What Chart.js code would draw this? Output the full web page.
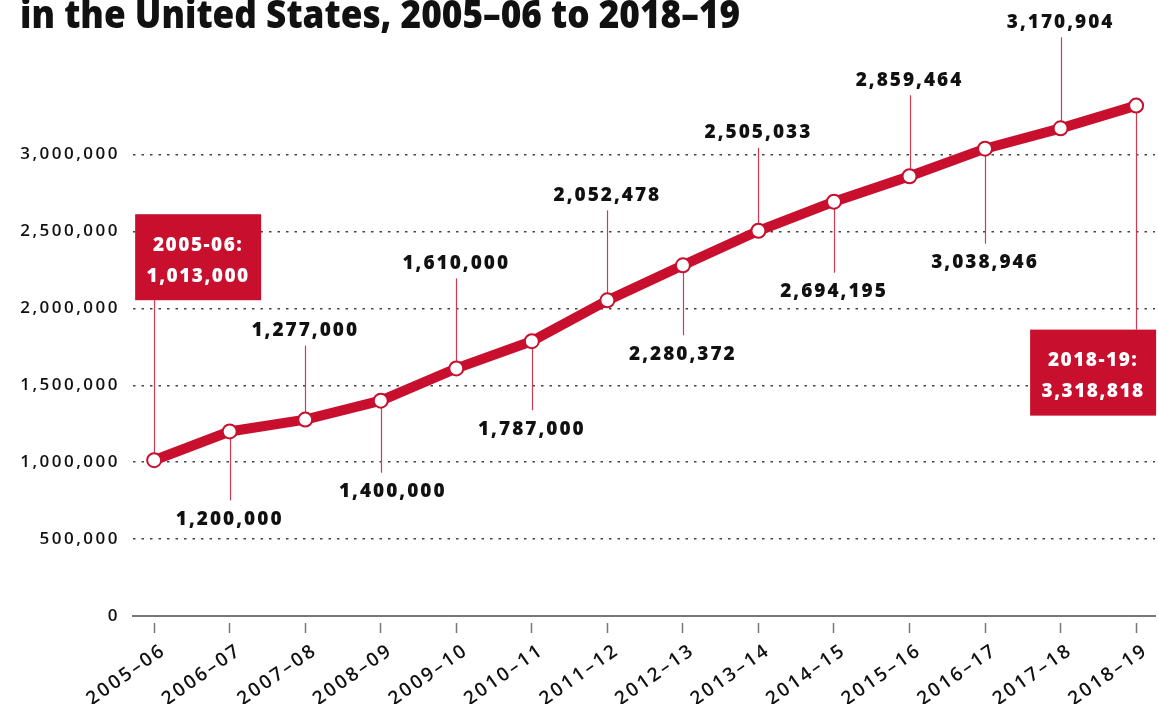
<!DOCTYPE html>
<html>
<head>
<meta charset="utf-8">
<title>Students in the United States</title>
<script src="https://cdn.jsdelivr.net/npm/chart.js@4.4.0/dist/chart.umd.min.js"></script>
<style>
body { margin: 0; background: #fff; }
#wrap { width: 1158px; height: 704px; }
</style>
</head>
<body>
<div id="wrap"><canvas id="chart" width="1158" height="704"></canvas></div>
<script>
// data
var years = ["2005–06", "2006–07", "2007–08", "2008–09", "2009–10", "2010–11", "2011–12",
             "2012–13", "2013–14", "2014–15", "2015–16", "2016–17", "2017–18", "2018–19"];
var students = [1013000, 1200000, 1277000, 1400000, 1610000, 1787000, 2052478,
                2280372, 2505033, 2694195, 2859464, 3038946, 3170904, 3318818];
var yTicks = [0, 500000, 1000000, 1500000, 2000000, 2500000, 3000000];
var boxTitles = { 0: "2005-06:", 13: "2018-19:" };
var titleText = "in the United States, 2005–06 to 2018–19";

// callout layout (px from the point): leader length, label shift
var leader = [-160, 69, -74, 72, -90, 69, -90, 70, -83, 71, -81, 95, -91, 224];
var labelDx = [0, 0, 0, 12, 0, 0, 0, 0, 0, 0, 0, 0, 0, 0];

var RED = "#C8102E";

function fmt(v) { return v.toLocaleString("en-US"); }

var spacing = {
  id: "spacing",
  beforeUpdate: function(chart) { chart.ctx.letterSpacing = "2.5px"; },
  beforeDraw: function(chart) {
    var ctx = chart.ctx;
    ctx.save();
    ctx.letterSpacing = "0px";
    ctx.fillStyle = "#111";
    ctx.font = "800 38px 'Open Sans'";
    ctx.textBaseline = "alphabetic";
    ctx.textAlign = "left";
    ctx.fillText(titleText, 20, 28, 720);
    ctx.restore();
    ctx.letterSpacing = "2.5px";
  }
};

var callouts = {
  id: "callouts",
  beforeDatasetsDraw: function(chart) {
    var ctx = chart.ctx;
    var pts = chart.getDatasetMeta(0).data;
    ctx.save();
    ctx.strokeStyle = "#D23A52";
    ctx.lineWidth = 1.2;
    pts.forEach(function(p, i) {
      ctx.beginPath();
      ctx.moveTo(Math.round(p.x) + 0.5, p.y);
      ctx.lineTo(Math.round(p.x) + 0.5, p.y + leader[i]);
      ctx.stroke();
    });
    ctx.restore();
  },
  afterDatasetsDraw: function(chart) {
    var ctx = chart.ctx;
    var pts = chart.getDatasetMeta(0).data;
    ctx.save();
    ctx.textAlign = "center";
    ctx.textBaseline = "middle";
    pts.forEach(function(p, i) {
      var len = leader[i];
      if (boxTitles[i]) {
        var bx = i === 0 ? p.x - 19 : p.x - 106;
        var by = len < 0 ? p.y + len - 86 : p.y + len;
        ctx.fillStyle = RED;
        ctx.fillRect(bx, by, 126, 86);
        ctx.fillStyle = "#fff";
        ctx.font = "800 19px 'Open Sans'";
        ctx.letterSpacing = "1.5px";
        ctx.fillText(boxTitles[i], bx + 63, by + 31);
        ctx.fillText(fmt(students[i]), bx + 63, by + 62);
      } else {
        ctx.fillStyle = "#111";
        ctx.font = "800 19px 'Open Sans'";
        ctx.letterSpacing = "2px";
        var ty = len < 0 ? p.y + len - 15 : p.y + len + 19;
        ctx.fillText(fmt(students[i]), p.x + labelDx[i], ty);
      }
    });
    ctx.restore();
  }
};

new Chart(document.getElementById("chart"), {
  type: "line",
  data: {
    datasets: [{
      data: students.map(function(v, i) { return { x: i, y: v }; }),
      borderColor: RED,
      borderWidth: 10,
      tension: 0,
      pointRadius: 7,
      pointBorderWidth: 2,
      pointBorderColor: RED,
      pointBackgroundColor: "#fff",
      clip: false
    }]
  },
  options: {
    responsive: false,
    animation: false,
    devicePixelRatio: 1,
    layout: { autoPadding: false, padding: { top: 47, right: 3, left: 0, bottom: 0 } },
    plugins: { legend: { display: false }, tooltip: { enabled: false } },
    scales: {
      x: {
        type: "linear",
        min: -0.28,
        max: 13.25,
        afterBuildTicks: function(scale) {
          scale.ticks = years.map(function(y, i) { return { value: i }; });
        },
        afterFit: function(scale) {
          scale.height = 88;
          scale.paddingLeft = 0;
          scale.paddingRight = 0;
        },
        border: { display: true, color: "#777", width: 2 },
        grid: {
          drawOnChartArea: false,
          drawTicks: true,
          tickLength: 17,
          tickColor: "#777",
          tickWidth: 1.5,
          tickBorderDash: [0, 6, 10, 30]
        },
        ticks: {
          autoSkip: false,
          minRotation: 35,
          maxRotation: 35,
          padding: 6,
          labelOffset: 10,
          color: "#111",
          font: { family: "'Open Sans'", size: 19, weight: "600" },
          callback: function(v) { return years[v]; }
        }
      },
      y: {
        min: 0,
        max: 3700000,
        afterBuildTicks: function(scale) {
          scale.ticks = yTicks.map(function(v) { return { value: v }; });
        },
        afterFit: function(scale) { scale.width = 133; },
        border: { display: false, dash: [2.5, 6] },
        grid: {
          drawTicks: false,
          color: function(c) { return c.tick && c.tick.value === 0 ? "rgba(0,0,0,0)" : "#444"; },
          lineWidth: 1.5
        },
        ticks: {
          padding: 13,
          color: "#111",
          font: { family: "'Open Sans'", size: 17, weight: "600" },
          callback: function(v) { return fmt(v); }
        }
      }
    }
  },
  plugins: [spacing, callouts]
});
</script>
</body>
</html>
